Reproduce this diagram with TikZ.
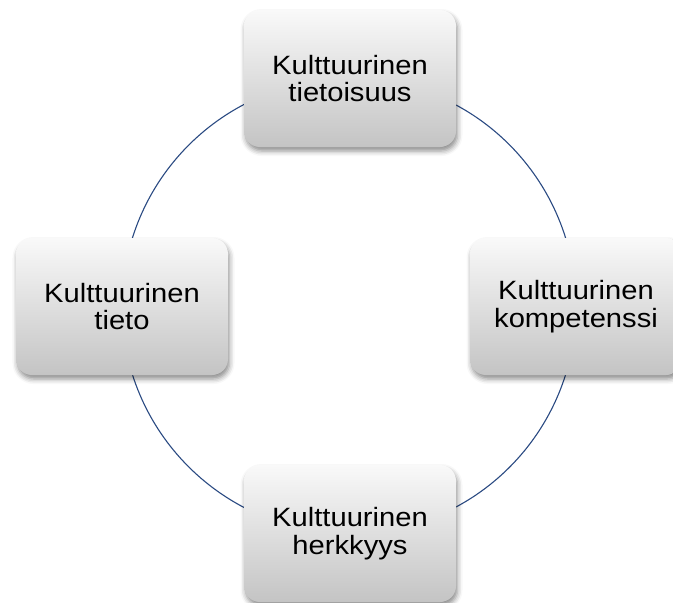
\documentclass[tikz,border=0pt]{standalone}
\usepackage{fontspec}
\newfontfamily\boxfont[FakeStretch=1.1]{Liberation Sans}
\usetikzlibrary{shadows.blur,backgrounds}
\definecolor{ringblue}{HTML}{2A4A82}
\definecolor{boxtop}{HTML}{F9F9F9}
\definecolor{boxmid}{HTML}{E9E9E9}
\definecolor{boxbottom}{HTML}{C4C4C4}
\tikzset{
  cbox/.style={rectangle, rounded corners=16pt,
    minimum width=212pt, minimum height=137pt,
    top color=boxtop, middle color=boxmid, bottom color=boxbottom,
    align=center, text=black,
    font=\boxfont\fontsize{26.5}{27.5}\selectfont,
    blur shadow={shadow xshift=1.5pt, shadow yshift=-4pt,
      shadow blur radius=5pt, shadow opacity=45}},
  ring/.style={draw=ringblue, line width=1.1pt}
}
\begin{document}
\begin{tikzpicture}[x=1pt,y=-1pt]
  \useasboundingbox (0,0) rectangle (673,603);
  \node[cbox] (top)    at (350,78.5)  {Kulttuurinen\\tietoisuus};
  \node[cbox] (right)  at (576,306.5) {Kulttuurinen\\kompetenssi};
  \node[cbox] (bottom) at (350,533.5) {Kulttuurinen\\herkkyys};
  \node[cbox] (left)   at (122,306.5) {Kulttuurinen\\tieto};
  \begin{scope}[on background layer]
    \draw[ring] (top.center)    to[out=0,in=90]    (right.center);
    \draw[ring] (right.center)  to[out=-90,in=0]   (bottom.center);
    \draw[ring] (bottom.center) to[out=180,in=-90] (left.center);
    \draw[ring] (left.center)   to[out=90,in=180]  (top.center);
  \end{scope}
\end{tikzpicture}
\end{document}
